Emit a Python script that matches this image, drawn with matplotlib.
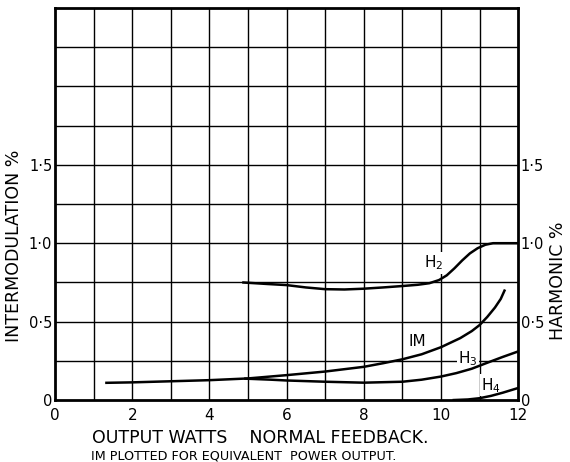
import numpy as np
import matplotlib
matplotlib.use("agg")
import matplotlib.pyplot as plt

# values
h2_x = [4.85, 5.5, 6, 6.5, 7, 7.5, 8, 8.5, 9, 9.4, 9.7, 9.95, 10.15, 10.35, 10.55, 10.75, 10.95, 11.15, 11.35, 11.6, 12]
h2_y = [0.75, 0.74, 0.733, 0.718, 0.707, 0.705, 0.71, 0.718, 0.727, 0.735, 0.745, 0.765, 0.795, 0.84, 0.89, 0.935, 0.968, 0.99, 1.0, 1.0, 1.0]

im_x = [1.3, 2, 3, 4, 5, 6, 7, 8, 8.5, 9, 9.5, 10, 10.5, 10.8, 11.0, 11.2, 11.4, 11.55, 11.66]
im_y = [0.11, 0.113, 0.12, 0.127, 0.138, 0.159, 0.182, 0.212, 0.235, 0.26, 0.292, 0.337, 0.395, 0.44, 0.478, 0.53, 0.59, 0.645, 0.705]

h3_x = [4.9, 5.6, 6, 7, 8, 9, 9.5, 10, 10.4, 10.8, 11.2, 11.6, 12]
h3_y = [0.137, 0.13, 0.125, 0.117, 0.111, 0.117, 0.13, 0.15, 0.172, 0.2, 0.238, 0.275, 0.31]

h4_x = [10.3, 10.7, 11.0, 11.3, 11.6, 12]
h4_y = [0.0, 0.004, 0.012, 0.027, 0.047, 0.077]

xticks = [0, 2, 4, 6, 8, 10, 12]
yticks = [0, 0.5, 1.0, 1.5]
ytick_labels = ["0", "0·5", "1·0", "1·5"]

labels = ["H$_2$", "IM", "H$_3$", "H$_4$"]
label_pos = [(9.8, 0.875), (9.4, 0.375), (10.7, 0.265), (11.3, 0.095)]

fig = plt.figure(figsize=(5.7, 4.62), dpi=100)
ax = fig.add_axes([0.0965, 0.134, 0.8125, 0.849])

ax.set_xlim(0, 12)
ax.set_ylim(0, 2.5)

# grid
for gx in np.arange(1, 12):
    ax.axvline(gx, color="black", lw=1.0, zorder=1)
for gy in np.arange(0.25, 2.5, 0.25):
    ax.axhline(gy, color="black", lw=1.0, zorder=1)

for xs, ys in [(h2_x, h2_y), (im_x, im_y), (h3_x, h3_y), (h4_x, h4_y)]:
    ax.plot(xs, ys, color="black", lw=1.8, zorder=3, solid_capstyle="butt")

for lab, (lx, ly) in zip(labels, label_pos):
    ax.text(lx, ly, lab, ha="center", va="center", fontsize=11, zorder=2,
            bbox=dict(facecolor="white", edgecolor="none", pad=1))

for s in ax.spines.values():
    s.set_linewidth(2)

ax.set_xticks(xticks)
ax.set_xticklabels([str(t) for t in xticks], fontsize=11)
ax.set_yticks(yticks)
ax.set_yticklabels(ytick_labels, fontsize=10.5)
ax.tick_params(axis="x", length=0, pad=6)
ax.tick_params(axis="y", length=0, right=True, labelright=True, pad=2)

ax.set_ylabel("INTERMODULATION %", fontsize=12.5, labelpad=1)
ax.yaxis.set_label_coords(-0.07, 0.393)
fig.text(0.979, 0.392, "HARMONIC %", rotation=90, ha="center", va="center", fontsize=12.5)

fig.text(0.456, 0.052, "OUTPUT WATTS    NORMAL FEEDBACK.", ha="center", va="center", fontsize=12.5)
fig.text(0.427, 0.012, "IM PLOTTED FOR EQUIVALENT  POWER OUTPUT.", ha="center", va="center", fontsize=9.2)

fig.savefig("out.png", dpi=100)
